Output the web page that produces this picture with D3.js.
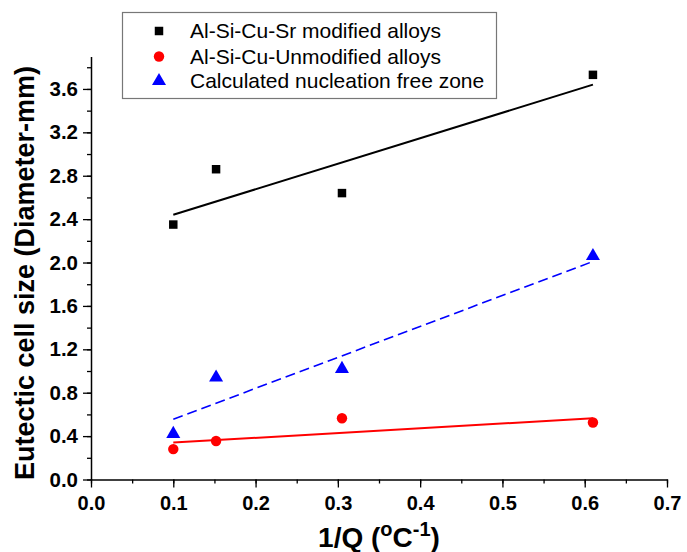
<!DOCTYPE html>
<html>
<head>
<meta charset="utf-8">
<script src="https://cdn.jsdelivr.net/npm/d3@7/dist/d3.min.js"></script>
<style>
  html, body { margin: 0; padding: 0; background: #fff; }
  svg { display: block; font-family: "Liberation Sans", Arial, sans-serif; }
</style>
</head>
<body>
<svg id="chart" width="687" height="552"></svg>
<script>
// ---- data ----
const xValues = [0.100, 0.152, 0.305, 0.610];
const srModified = [2.35, 2.86, 2.64, 3.73];
const unmodified = [0.28, 0.355, 0.565, 0.525];
const nucleationFree = [0.42, 0.94, 1.02, 2.06];
// fitted lines, endpoints
const fitX = [0.100, 0.610];
const srFit = [2.44, 3.64];
const unmodFit = [0.34, 0.565];
const nucFit = [0.555, 2.01];
const seriesNames = ["Al-Si-Cu-Sr modified alloys", "Al-Si-Cu-Unmodified alloys", "Calculated nucleation free zone"];
const xTicks = [0, 0.1, 0.2, 0.3, 0.4, 0.5, 0.6, 0.7];
const yTicks = [0, 0.4, 0.8, 1.2, 1.6, 2.0, 2.4, 2.8, 3.2, 3.6];

// ---- layout ----
const svg = d3.select("#chart");
const x = d3.scaleLinear().domain([0, 0.7]).range([91, 667]);
const y = d3.scaleLinear().domain([0, 3.9]).range([479.5, 56.4]);

const xMinor = d3.range(0, 0.7001, 0.05);
const yMinor = d3.range(0, 3.9001, 0.2);
const FONT = "Liberation Sans, Arial, sans-serif";

// x axis
const gx = svg.append("g").attr("transform", `translate(0,${y(0)})`);
gx.append("g").call(d3.axisBottom(x).tickValues(xMinor).tickSize(4).tickFormat(""))
  .call(g => g.select(".domain").remove())
  .call(g => g.selectAll("line").attr("stroke", "#000").attr("stroke-width", 1.3));
gx.append("g").call(d3.axisBottom(x).tickValues(xTicks).tickSize(8).tickPadding(8).tickSizeOuter(0).tickFormat(d3.format(".1f")))
  .call(g => g.select(".domain").attr("stroke", "#000").attr("stroke-width", 1.5))
  .call(g => g.selectAll("line").attr("stroke", "#000").attr("stroke-width", 1.3))
  .call(g => g.selectAll("text").attr("font-size", 20).attr("font-weight", "bold").attr("fill", "#000").attr("font-family", FONT));

// y axis
const gy = svg.append("g").attr("transform", `translate(${x(0)},0)`);
gy.append("g").call(d3.axisLeft(y).tickValues(yMinor).tickSize(4).tickFormat(""))
  .call(g => g.select(".domain").remove())
  .call(g => g.selectAll("line").attr("stroke", "#000").attr("stroke-width", 1.3));
gy.append("g").call(d3.axisLeft(y).tickValues(yTicks).tickSize(8).tickPadding(5).tickSizeOuter(0).tickFormat(d3.format(".1f")))
  .call(g => g.select(".domain").attr("stroke", "#000").attr("stroke-width", 1.5))
  .call(g => g.selectAll("line").attr("stroke", "#000").attr("stroke-width", 1.3))
  .call(g => g.selectAll("text").attr("font-size", 20.5).attr("font-weight", "bold").attr("fill", "#000").attr("font-family", FONT));

// axis titles
const xt = svg.append("text").attr("x", 379).attr("y", 547).attr("text-anchor", "middle")
  .attr("font-size", 28).attr("font-weight", "bold").attr("fill", "#000");
xt.append("tspan").text("1/Q (");
xt.append("tspan").attr("font-size", 20).attr("dy", -11).text("o");
xt.append("tspan").attr("dy", 11).text("C");
xt.append("tspan").attr("font-size", 20).attr("dy", -11).text("-1");
xt.append("tspan").attr("dy", 11).text(")");

svg.append("text").attr("transform", `translate(34,273) rotate(-90)`).attr("text-anchor", "middle")
  .attr("font-size", 27).attr("font-weight", "bold").attr("fill", "#000")
  .text("Eutectic cell size (Diameter-mm)");

// fit lines
const line = d3.line().x(d => x(d[0])).y(d => y(d[1]));
svg.append("path").datum(fitX.map((v, i) => [v, srFit[i]])).attr("d", line)
  .attr("fill", "none").attr("stroke", "#000").attr("stroke-width", 2);
svg.append("path").datum(fitX.map((v, i) => [v, unmodFit[i]])).attr("d", line)
  .attr("fill", "none").attr("stroke", "#ff0000").attr("stroke-width", 2);
svg.append("path").datum(fitX.map((v, i) => [v, nucFit[i]])).attr("d", line)
  .attr("fill", "none").attr("stroke", "#0000ff").attr("stroke-width", 1.6).attr("stroke-dasharray", "10,5");

// markers
const sq = d3.symbol().type(d3.symbolSquare).size(72);
const ci = d3.symbol().type(d3.symbolCircle).size(85);
const tri = d3.symbol().type(d3.symbolTriangle).size(85);

svg.append("g").selectAll("path").data(xValues.map((v, i) => [v, srModified[i]])).join("path")
  .attr("d", sq).attr("transform", d => `translate(${x(d[0])},${y(d[1])})`).attr("fill", "#000");
svg.append("g").selectAll("path").data(xValues.map((v, i) => [v, unmodified[i]])).join("path")
  .attr("d", ci).attr("transform", d => `translate(${x(d[0])},${y(d[1])})`).attr("fill", "#ff0000");
svg.append("g").selectAll("path").data(xValues.map((v, i) => [v, nucleationFree[i]])).join("path")
  .attr("d", tri).attr("transform", d => `translate(${x(d[0])},${y(d[1])})`).attr("fill", "#0000ff");

// legend
const lg = svg.append("g");
lg.append("rect").attr("x", 122.5).attr("y", 12.5).attr("width", 374).attr("height", 86)
  .attr("fill", "#fff").attr("stroke", "#777").attr("stroke-width", 1.2);
const symbols = [sq, ci, tri];
const colors = ["#000", "#ff0000", "#0000ff"];
const rowY = [31, 56.5, 81];
seriesNames.forEach((name, i) => {
  lg.append("path").attr("d", symbols[i]).attr("transform", `translate(159,${rowY[i]})`).attr("fill", colors[i]);
  lg.append("text").attr("x", 190).attr("y", rowY[i]).attr("dy", "0.35em")
    .attr("font-size", 21).attr("fill", "#000").text(name);
});
</script>
</body>
</html>
